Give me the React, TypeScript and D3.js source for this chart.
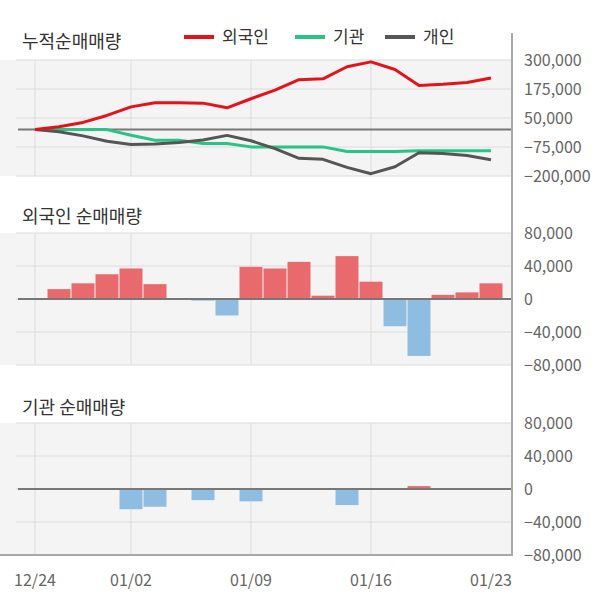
import React from "react";
import * as d3 from "d3";

const dates = ["12/24","12/26","12/27","12/28","01/02","01/03","01/04","01/07","01/08","01/09","01/10","01/11","01/14","01/15","01/16","01/17","01/18","01/21","01/22","01/23"];
const tickDates = ["12/24","01/02","01/09","01/16","01/23"];
const gridDates = ["12/24","01/02","01/09","01/16"];

const foreignCum = [0,12000,31000,61000,98000,116000,116000,114000,94000,133000,170000,215000,219000,271000,292000,259000,190000,195000,203000,222000];
const instCum = [0,0,0,0,-24500,-46000,-46000,-59500,-59500,-74500,-74500,-74500,-74500,-94000,-94000,-94000,-91000,-91000,-91000,-91000];
const indivCum = [0,-9000,-27000,-50000,-64000,-62000,-56000,-45000,-25000,-48000,-82000,-124000,-128000,-163000,-190000,-160000,-100000,-103000,-112000,-130000];

const foreignDaily = [0,12000,19000,30000,37000,18000,0,-2000,-20000,39000,37000,45000,4000,52000,21000,-33000,-69000,5000,8000,19000];
const instDaily = [0,0,0,0,-24500,-21500,0,-13500,0,-15000,0,0,0,-19500,0,0,3500,0,0,0];

const cumTicks = [300000,175000,50000,-75000,-200000];
const barTicks = [80000,40000,0,-40000,-80000];

const seriesNames = ["외국인","기관","개인"];
const seriesColors = ["#e3121b","#27c486","#555555"];

const FONT = "'Noto Sans CJK KR','Noto Sans',sans-serif";
const AX = 512;
const fmt = d3.format(",");

export default function App() {
  const x = d3.scalePoint<string>().domain(dates).range([35, 491]);
  const bw = 23;

  const yTop = d3.scaleLinear().domain([-200000, 300000]).range([176, 60]);
  const yMid = d3.scaleLinear().domain([-80000, 80000]).range([365, 233]);
  const yBot = d3.scaleLinear().domain([-80000, 80000]).range([555, 423]);

  const line = (vals: number[]) =>
    d3.line<number>().x((_, i) => x(dates[i])!).y((v) => yTop(v))(vals) || "";

  const panelBg = (y: d3.ScaleLinear<number, number>, ticks: number[], key: string) => {
    const [r0, r1] = y.range();
    return (
      <g key={key}>
        <rect x={0} y={r1} width={AX} height={r0 - r1} fill="#f4f4f4" />
        {gridDates.map((d) => (
          <line key={d} x1={x(d)} x2={x(d)} y1={r1} y2={r0} stroke="#dcdcdc" strokeWidth={1} />
        ))}
        {ticks.map((t) => (
          <line key={t} x1={16} x2={AX} y1={y(t)} y2={y(t)} stroke="#dcdcdc" strokeWidth={1} />
        ))}
        {ticks.map((t) => (
          <text key={"l" + t} x={524} y={y(t)} dy="0.35em" fontSize={16} fill="#666" fontFamily={FONT}>
            {fmt(t)}
          </text>
        ))}
      </g>
    );
  };

  const zeroLine = (y: d3.ScaleLinear<number, number>) => (
    <line x1={18} x2={AX} y1={y(0)} y2={y(0)} stroke="#777" strokeWidth={2} />
  );

  const bars = (vals: number[], y: d3.ScaleLinear<number, number>) =>
    vals.map((v, i) =>
      v === 0 ? null : (
        <rect
          key={i}
          x={x(dates[i])! - bw / 2}
          y={Math.min(y(v), y(0))}
          width={bw}
          height={Math.abs(y(v) - y(0))}
          fill={v > 0 ? "#e96a6c" : "#8fbde1"}
        />
      )
    );

  const legendX = [184, 295, 385];

  return (
    <svg width={600} height={604} style={{ position: "absolute", left: 0, top: 0 }} fontFamily={FONT}>
      <rect x={0} y={0} width={600} height={604} fill="#fff" />

      {panelBg(yTop, cumTicks, "top")}
      {panelBg(yMid, barTicks, "mid")}
      {panelBg(yBot, barTicks, "bot")}

      {zeroLine(yTop)}
      {[instCum, indivCum, foreignCum].map((vals, k) => {
        const ci = [1, 2, 0][k];
        return (
          <path key={k} d={line(vals)} fill="none" stroke={seriesColors[ci]} strokeWidth={3} strokeLinejoin="round" />
        );
      })}

      {bars(foreignDaily, yMid)}
      {zeroLine(yMid)}
      {bars(instDaily, yBot)}
      {zeroLine(yBot)}

      <line x1={0} x2={AX} y1={555} y2={555} stroke="#a8a8a8" strokeWidth={2} />
      <line x1={AX} x2={AX} y1={33} y2={556} stroke="#a8a8a8" strokeWidth={2} />

      <text x={22} y={42} dy="0.35em" fontSize={18} fill="#333">누적순매매량</text>
      <text x={22} y={217} dy="0.35em" fontSize={18} fill="#333">외국인 순매매량</text>
      <text x={22} y={408} dy="0.35em" fontSize={18} fill="#333">기관 순매매량</text>

      {seriesNames.map((n, i) => (
        <g key={n}>
          <line x1={legendX[i]} x2={legendX[i] + 30} y1={37} y2={37} stroke={seriesColors[i]} strokeWidth={4} />
          <text x={legendX[i] + 38} y={37} dy="0.35em" fontSize={17} fill="#333">{n}</text>
        </g>
      ))}

      {tickDates.map((d) => (
        <text key={d} x={x(d)} y={580} dy="0.35em" textAnchor="middle" fontSize={16} fill="#666">
          {d}
        </text>
      ))}
    </svg>
  );
}
